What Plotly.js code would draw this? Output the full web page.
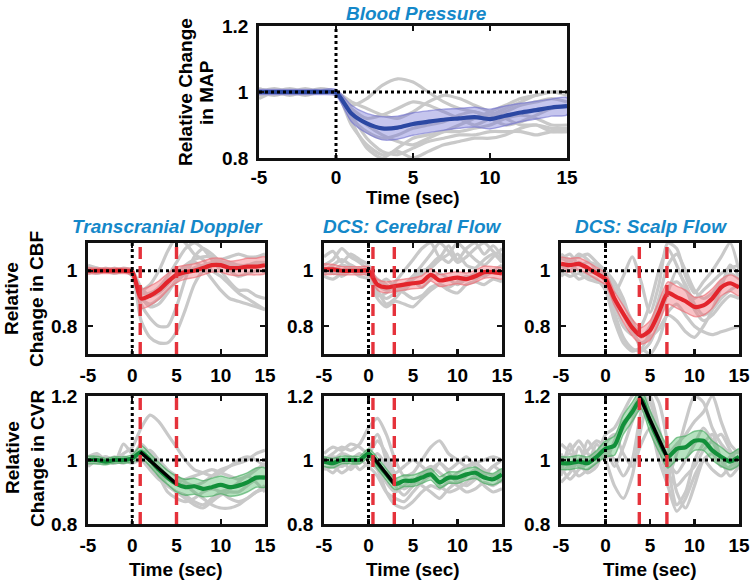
<!DOCTYPE html>
<html><head><meta charset="utf-8">
<script src="https://cdn.plot.ly/plotly-3.0.1.min.js"></script>
<style>html,body{margin:0;padding:0;background:#fff}#chart{width:752px;height:583px}</style>
</head><body><div id="chart"></div>
<script>
// ---------- data ----------
const time = [-5,-4,-3,-2,-1,0,1,2,3,4,5,6,7,8,9,10,11,12,13,14,15];
const xTickVals = [-5,0,5,10,15];
const xTickText = ['-5','0','5','10','15'];
const yTickValsWide = [0.8,1,1.2];
const yTickTextWide = ['0.8','1','1.2'];
const yTickValsFlow = [0.8,1];
const yTickTextFlow = ['0.8','1'];

// Blood pressure (MAP)
const bpMean = [1.0,1.0,1.0,1.0,1.0,0.998,0.935,0.905,0.89,0.892,0.903,0.91,0.916,0.92,0.924,0.918,0.928,0.938,0.945,0.953,0.957];
const bpSem  = [0.008,0.008,0.008,0.008,0.008,0.01,0.025,0.03,0.035,0.035,0.034,0.033,0.032,0.03,0.03,0.03,0.03,0.028,0.027,0.026,0.026];
const bpSubjects = [
 [1.01,1.0,1.0,1.01,1.0,1.0,0.93,0.86,0.82,0.81,0.83,0.85,0.86,0.87,0.87,0.88,0.88,0.88,0.87,0.88,0.88],
 [0.99,1.0,1.01,1.0,1.0,1.0,0.96,0.98,1.02,1.04,1.03,1.0,0.97,0.95,0.94,0.93,0.95,0.97,0.99,1.0,0.99],
 [1.0,1.0,1.0,1.0,1.0,1.0,0.9,0.84,0.81,0.82,0.8,0.82,0.84,0.85,0.86,0.86,0.87,0.89,0.9,0.89,0.89],
 [1.01,1.0,1.0,0.99,1.0,1.0,0.95,0.92,0.93,0.95,0.97,0.96,0.94,0.92,0.9,0.92,0.94,0.96,0.97,0.98,0.97],
 [1.0,0.99,1.0,1.0,1.01,1.0,0.92,0.88,0.86,0.87,0.89,0.9,0.91,0.93,0.94,0.92,0.9,0.91,0.93,0.95,0.96],
 [0.98,1.0,1.0,1.0,1.0,1.0,0.97,0.95,0.93,0.92,0.94,0.97,0.99,0.98,0.96,0.94,0.92,0.9,0.9,0.88,0.88],
 [1.0,1.01,1.0,1.0,1.0,1.0,0.94,0.9,0.87,0.85,0.84,0.86,0.88,0.9,0.92,0.94,0.96,0.98,0.99,1.0,1.0],
 [1.0,1.0,0.99,1.0,1.0,1.0,0.91,0.83,0.8,0.83,0.86,0.87,0.88,0.88,0.89,0.9,0.92,0.93,0.92,0.9,0.9]
];

// Transcranial Doppler CBF
const tcdMean = [1.0,1.0,1.0,1.0,1.0,0.995,0.9,0.91,0.93,0.96,0.985,0.995,1.0,1.01,1.02,1.02,1.01,1.01,1.015,1.015,1.02];
const tcdSem  = [0.012,0.01,0.01,0.01,0.01,0.012,0.035,0.035,0.033,0.03,0.028,0.025,0.025,0.025,0.025,0.025,0.025,0.028,0.03,0.03,0.03];
const tcdSubjects = [
 [1.01,1.0,1.0,1.0,1.0,0.98,0.82,0.76,0.74,0.74,0.78,0.86,0.95,1.0,1.02,1.03,1.03,1.02,1.02,1.03,1.03],
 [1.0,1.0,1.01,1.0,1.0,0.99,0.88,0.83,0.8,0.8,0.87,0.97,1.05,1.08,1.06,1.03,1.0,0.98,0.99,1.0,1.0],
 [1.0,1.01,1.0,0.99,1.0,1.0,0.93,0.95,1.0,1.07,1.12,1.1,1.06,1.04,1.0,0.98,0.95,0.92,0.9,0.88,0.86],
 [0.99,1.0,1.0,1.0,1.01,1.0,0.92,0.92,0.94,0.98,1.03,1.08,1.1,1.08,1.04,1.0,0.96,0.93,0.93,0.91,0.9],
 [1.02,1.01,1.0,1.0,1.0,1.0,0.9,0.88,0.9,0.93,0.96,0.99,1.01,1.02,1.03,1.04,1.05,1.06,1.05,1.05,1.06],
 [1.0,1.0,1.0,1.01,1.0,1.0,0.94,0.91,0.92,0.95,0.99,1.02,1.04,1.05,1.05,1.03,1.02,1.01,1.02,1.02,1.03],
 [1.0,0.99,1.0,1.0,1.0,1.0,0.91,0.87,0.88,0.92,0.97,1.01,1.03,1.01,0.97,0.93,0.9,0.89,0.88,0.87,0.86]
];

// DCS cerebral flow
const dcsCbfMean = [1.005,1.005,1.0,1.0,1.0,1.0,0.95,0.94,0.945,0.95,0.955,0.96,0.985,0.965,0.97,0.975,0.97,0.98,0.995,0.995,0.99];
const dcsCbfSem  = [0.02,0.018,0.015,0.015,0.015,0.015,0.02,0.02,0.02,0.02,0.02,0.022,0.022,0.022,0.022,0.022,0.022,0.022,0.022,0.02,0.02];
const dcsCbfSubjects = [
 [1.02,1.04,1.08,1.05,1.03,1.0,0.9,0.87,0.89,0.88,0.87,0.9,0.93,0.95,0.94,0.96,0.98,0.97,0.99,1.0,1.0],
 [1.05,1.07,1.03,1.06,1.04,1.02,0.95,0.93,0.96,1.0,1.04,1.08,1.1,1.05,1.09,1.04,1.08,1.1,1.06,1.09,1.05],
 [0.98,0.97,0.99,1.0,0.98,0.97,0.92,0.9,0.92,0.95,0.97,0.99,1.02,1.05,1.03,1.06,1.02,1.01,1.04,1.06,1.03],
 [1.0,1.01,0.98,1.0,1.01,0.99,0.95,0.97,0.94,0.92,0.9,0.91,0.94,0.95,0.93,0.92,0.95,0.96,0.95,0.97,0.96],
 [0.99,1.0,1.02,1.01,0.99,1.0,0.97,0.95,0.93,0.95,0.98,1.02,1.06,1.1,1.07,1.03,1.05,1.08,1.1,1.07,1.04],
 [1.01,0.99,1.0,1.02,1.0,0.98,0.91,0.92,0.95,0.93,0.96,0.94,0.97,0.99,0.97,0.95,0.97,0.99,0.98,1.0,1.02],
 [1.0,1.02,1.04,1.02,1.0,0.99,0.93,0.88,0.9,0.94,0.98,1.0,1.01,1.04,1.06,1.1,1.07,1.04,1.02,1.05,1.08]
];

// DCS scalp flow
const scalpMean = [1.025,1.02,1.025,1.01,0.99,0.97,0.9,0.845,0.795,0.765,0.785,0.85,0.92,0.905,0.89,0.87,0.875,0.9,0.94,0.955,0.94];
const scalpSem  = [0.025,0.025,0.022,0.022,0.022,0.022,0.025,0.03,0.03,0.03,0.035,0.04,0.04,0.04,0.04,0.035,0.035,0.035,0.03,0.03,0.03];
const scalpSubjects = [
 [1.05,1.03,1.06,1.04,1.0,0.96,0.85,0.76,0.72,0.71,0.74,0.82,0.92,1.0,0.95,0.88,0.84,0.86,0.9,0.93,0.95],
 [1.0,0.98,0.99,0.97,0.96,0.95,0.92,0.98,1.05,0.96,0.85,0.95,1.1,1.08,0.98,0.92,0.96,1.0,1.05,1.1,1.0],
 [0.98,1.0,0.97,0.98,0.97,0.93,0.82,0.74,0.71,0.72,0.7,0.75,0.85,0.88,0.84,0.8,0.78,0.77,0.78,0.79,0.8],
 [1.04,1.06,1.02,1.03,1.02,0.99,0.94,0.88,0.82,0.76,0.8,0.9,1.02,1.06,1.0,0.93,0.9,0.92,0.96,0.99,0.97],
 [1.02,1.0,1.03,1.01,0.99,0.97,0.9,0.84,0.78,0.74,0.76,0.79,0.84,0.82,0.78,0.76,0.8,0.86,0.94,1.02,0.98],
 [1.06,1.04,1.05,1.06,1.03,1.0,0.96,0.9,0.8,0.72,0.78,0.86,0.94,0.96,0.93,0.9,0.93,0.96,0.99,1.01,1.02],
 [0.99,1.02,1.0,0.99,1.0,0.98,0.88,0.8,0.77,0.8,0.88,1.0,1.08,1.02,0.94,0.86,0.82,0.84,0.88,0.91,0.9]
];

// CVR – Transcranial Doppler
const tcdCvrMean = [1.0,1.0,0.995,1.0,1.0,1.005,1.025,1.0,0.97,0.945,0.925,0.915,0.918,0.91,0.915,0.922,0.915,0.92,0.93,0.945,0.945];
const tcdCvrSem  = [0.012,0.012,0.01,0.01,0.01,0.012,0.02,0.02,0.022,0.022,0.025,0.025,0.025,0.025,0.028,0.028,0.028,0.03,0.03,0.03,0.03];
const tcdCvrSubjects = [
 [1.0,1.0,1.01,1.0,1.02,1.04,1.1,1.14,1.12,1.08,1.04,1.0,0.97,0.96,0.95,0.96,0.98,0.99,1.0,1.02,1.03],
 [0.99,1.0,1.0,0.99,1.05,1.02,1.02,1.0,0.96,0.92,0.9,0.88,0.86,0.85,0.87,0.89,0.9,0.9,0.92,0.94,0.95],
 [1.01,1.02,1.0,1.01,1.0,1.0,1.03,1.0,0.95,0.9,0.88,0.87,0.88,0.9,0.91,0.9,0.88,0.87,0.88,0.9,0.92],
 [1.0,0.99,1.0,1.0,0.99,1.01,1.05,1.02,0.98,0.95,0.93,0.92,0.9,0.88,0.86,0.85,0.85,0.86,0.88,0.9,0.91],
 [0.98,1.0,1.01,1.0,1.0,0.99,1.0,0.98,0.96,0.94,0.93,0.94,0.95,0.96,0.97,0.96,0.95,0.94,0.95,0.97,0.99],
 [1.0,1.0,0.99,1.0,1.01,1.0,1.02,1.03,1.0,0.97,0.95,0.93,0.92,0.93,0.95,0.97,0.98,1.0,1.01,1.0,0.98],
 [1.0,1.01,1.0,0.99,1.0,1.0,1.0,0.97,0.94,0.92,0.9,0.89,0.87,0.86,0.88,0.9,0.91,0.93,0.95,0.93,0.9]
];
const tcdEvents = [0.9, 5.0];
const tcdSlopeX = [0.9, 5.0];
const tcdSlopeY = [1.025, 0.925];

// CVR – DCS cerebral
const dcsCvrMean = [0.995,0.99,1.0,1.0,1.0,1.02,0.99,0.955,0.925,0.935,0.935,0.945,0.955,0.93,0.945,0.945,0.955,0.96,0.945,0.94,0.955];
const dcsCvrSem  = [0.015,0.015,0.012,0.012,0.012,0.015,0.018,0.018,0.018,0.018,0.018,0.018,0.018,0.018,0.018,0.018,0.018,0.018,0.018,0.018,0.018];
const dcsCvrSubjects = [
 [1.0,1.02,1.04,1.03,1.05,1.1,1.13,1.08,1.0,0.95,0.96,1.0,1.04,1.06,1.02,1.0,0.98,0.99,1.0,1.01,1.0],
 [0.98,0.96,0.99,1.0,0.97,0.99,0.97,0.9,0.86,0.85,0.87,0.9,0.92,0.91,0.93,0.92,0.9,0.91,0.93,0.92,0.94],
 [1.02,1.04,1.03,1.05,1.04,1.02,1.06,1.02,0.96,0.98,1.0,0.98,0.96,0.99,0.97,0.99,1.01,0.98,0.96,0.98,1.0],
 [0.97,0.98,0.96,0.98,1.0,0.98,0.95,0.9,0.88,0.87,0.9,0.93,0.95,0.92,0.9,0.91,0.93,0.95,0.92,0.9,0.91],
 [1.0,1.0,1.02,1.01,0.99,1.03,1.08,1.0,0.94,0.91,0.93,0.96,0.98,0.96,0.94,0.96,0.98,0.99,0.97,0.95,0.97],
 [0.99,1.01,1.0,0.97,1.0,1.01,0.98,0.93,0.9,0.92,0.94,0.92,0.9,0.88,0.91,0.93,0.92,0.94,0.96,0.95,0.93],
 [1.01,0.99,0.98,1.0,1.02,1.0,1.02,0.98,0.92,0.89,0.92,0.95,0.97,0.99,0.96,0.93,0.95,0.97,0.95,0.98,0.96]
];
const dcsEvents = [0.5, 2.9];
const dcsSlopeX = [0.5, 2.9];
const dcsSlopeY = [1.01, 0.925];

// CVR – DCS scalp
const scalpCvrMean = [0.99,0.99,0.995,0.99,1.01,1.035,1.045,1.11,1.15,1.19,1.12,1.06,1.01,1.035,1.04,1.06,1.06,1.03,1.01,0.995,1.01];
const scalpCvrSem  = [0.02,0.02,0.02,0.02,0.02,0.025,0.03,0.03,0.03,0.03,0.035,0.035,0.035,0.035,0.035,0.03,0.03,0.03,0.03,0.025,0.025];
const scalpCvrSubjects = [
 [0.95,1.05,0.98,1.06,1.02,1.08,1.1,1.15,1.2,1.22,1.15,1.05,0.95,1.02,1.12,1.2,1.18,1.1,1.05,1.02,1.0],
 [1.02,0.97,1.04,0.99,1.05,1.0,0.92,0.88,0.95,1.1,1.2,1.1,0.98,0.86,0.9,1.0,1.05,1.08,1.0,0.95,0.98],
 [0.96,0.98,0.95,0.97,0.99,1.02,1.05,1.1,1.16,1.2,1.18,1.08,1.0,0.96,1.0,1.05,1.1,1.06,1.0,0.97,0.99],
 [1.05,1.03,1.06,1.02,1.0,1.03,1.0,0.95,1.0,1.15,1.22,1.18,1.05,0.9,0.85,0.92,1.0,1.02,0.98,1.01,1.03],
 [0.98,0.94,0.97,0.99,1.02,1.0,1.06,1.12,1.14,1.16,1.12,1.06,1.02,1.05,1.08,1.12,1.15,1.2,1.12,1.05,1.02],
 [1.0,1.02,0.99,0.96,0.98,1.05,1.08,1.02,0.98,1.05,1.1,1.0,0.92,0.84,0.88,0.95,1.0,0.97,0.95,0.98,1.0],
 [0.93,0.96,1.0,1.03,1.06,1.04,0.98,1.04,1.12,1.18,1.14,1.04,0.96,0.92,0.95,0.98,1.03,1.06,1.08,1.03,0.98]
];
const scalpEvents = [3.8, 6.9];
const scalpSlopeX = [3.8, 6.9];
const scalpSlopeY = [1.2, 1.01];

// ---------- styling / layout ----------
const W = 752, H = 583;
const FONT = 'Liberation Sans, Arial, Helvetica, sans-serif';
const BLUE = {line:'#2c48a3', band:'rgba(120,120,215,0.42)', edge:'rgba(110,110,205,0.6)'};
const RED  = {line:'#e3252c', band:'rgba(242,120,128,0.45)', edge:'rgba(236,110,118,0.65)'};
const GREEN= {line:'#12903a', band:'rgba(80,185,105,0.42)', edge:'rgba(70,170,95,0.65)'};

function px(x0,x1){return [x0/W, x1/W];}
function py(top,bot){return [1-bot/H, 1-top/H];}

const panels = [
 {mean:bpMean, sem:bpSem, subj:bpSubjects, col:BLUE, yr:[0.8,1.2], yt:[yTickValsWide,yTickTextWide], dx:px(259,567), dy:py(26,158), ev:[], sx:null, sy:null, xs:0},
 {mean:tcdMean, sem:tcdSem, subj:tcdSubjects, col:RED, yr:[0.7,1.1], yt:[yTickValsFlow,yTickTextFlow], dx:px(88,265), dy:py(243,354), ev:tcdEvents, sx:null, sy:null, xs:2},
 {mean:dcsCbfMean, sem:dcsCbfSem, subj:dcsCbfSubjects, col:RED, yr:[0.7,1.1], yt:[yTickValsFlow,yTickTextFlow], dx:px(324,502), dy:py(243,354), ev:dcsEvents, sx:null, sy:null, xs:2},
 {mean:scalpMean, sem:scalpSem, subj:scalpSubjects, col:RED, yr:[0.7,1.1], yt:[yTickValsFlow,yTickTextFlow], dx:px(561,739), dy:py(243,354), ev:scalpEvents, sx:null, sy:null, xs:2},
 {mean:tcdCvrMean, sem:tcdCvrSem, subj:tcdCvrSubjects, col:GREEN, yr:[0.8,1.2], yt:[yTickValsWide,yTickTextWide], dx:px(88,265), dy:py(396,524), ev:tcdEvents, sx:tcdSlopeX, sy:tcdSlopeY, xs:2},
 {mean:dcsCvrMean, sem:dcsCvrSem, subj:dcsCvrSubjects, col:GREEN, yr:[0.8,1.2], yt:[yTickValsWide,yTickTextWide], dx:px(324,502), dy:py(396,524), ev:dcsEvents, sx:dcsSlopeX, sy:dcsSlopeY, xs:2},
 {mean:scalpCvrMean, sem:scalpCvrSem, subj:scalpCvrSubjects, col:GREEN, yr:[0.8,1.2], yt:[yTickValsWide,yTickTextWide], dx:px(561,739), dy:py(396,524), ev:scalpEvents, sx:scalpSlopeX, sy:scalpSlopeY, xs:2}
];

const traces = [];
const shapes = [];
const layout = {
  width:W, height:H, margin:{l:0,r:0,t:0,b:0},
  paper_bgcolor:'#fff', plot_bgcolor:'#fff', showlegend:false,
  font:{family:FONT, color:'#000'}
};

panels.forEach((p,i)=>{
  const k = i===0 ? '' : String(i+1);
  const xa = 'x'+k, ya = 'y'+k;
  const axCommon = {showgrid:false, zeroline:false, showline:true, linecolor:'#111', linewidth:2.8,
    mirror:'ticks', ticks:'inside', ticklen:5, tickwidth:2.4, tickcolor:'#111',
    tickfont:{family:FONT, size:19, color:'#000', weight:'bold'}, fixedrange:true};
  layout['xaxis'+k] = Object.assign({}, axCommon, {domain:p.dx, anchor:ya, range:[-5,15],
    tickmode:'array', tickvals:xTickVals, ticktext:xTickText, ticklabelstandoff:p.xs});
  layout['yaxis'+k] = Object.assign({}, axCommon, {domain:p.dy, anchor:xa, range:p.yr,
    tickmode:'array', tickvals:p.yt[0], ticktext:p.yt[1], ticklabelstandoff:4});

  const lineShape = {shape:'spline', smoothing:0.7};
  p.subj.forEach(s=>{
    traces.push({x:time, y:s, xaxis:xa, yaxis:ya, mode:'lines', hoverinfo:'skip',
      line:Object.assign({color:'#c9c9c9', width:3.2}, lineShape)});
  });
  const upper = p.mean.map((m,j)=>m+p.sem[j]);
  const lower = p.mean.map((m,j)=>m-p.sem[j]);
  traces.push({x:time.concat(time.slice().reverse()), y:upper.concat(lower.slice().reverse()),
    xaxis:xa, yaxis:ya, mode:'lines', fill:'toself', fillcolor:p.col.band,
    line:{color:p.col.edge, width:1.4, shape:'spline', smoothing:0.7}, hoverinfo:'skip'});
  traces.push({x:time, y:p.mean, xaxis:xa, yaxis:ya, mode:'lines', hoverinfo:'skip',
    line:{color:p.col.line, width:4.2, shape:'spline', smoothing:0.7}});

  shapes.push({type:'line', xref:xa, yref:ya+' domain', x0:0, x1:0, y0:0, y1:1, layer:'above',
    line:{color:'#000', width:3, dash:'dot'}});
  shapes.push({type:'line', xref:xa+' domain', yref:ya, x0:0, x1:1, y0:1, y1:1, layer:'above',
    line:{color:'#000', width:3, dash:'dot'}});
  p.ev.forEach(e=>{
    shapes.push({type:'line', xref:xa, yref:ya+' domain', x0:e, x1:e, y0:0, y1:1, layer:'above',
      line:{color:'#e5323b', width:3.4, dash:'12px,7px'}});
  });
  if(p.sx){
    traces.push({x:p.sx, y:p.sy, xaxis:xa, yaxis:ya, mode:'lines', hoverinfo:'skip',
      line:{color:'#000', width:3.4}});
  }
});

function ann(text, xPx, yPx, opts){
  return Object.assign({text:text, xref:'paper', yref:'paper', x:xPx/W, y:1-yPx/H,
    xanchor:'center', yanchor:'middle', showarrow:false,
    font:{family:FONT, size:19, color:'#000', weight:'bold'}}, opts||{});
}
const titleFont = {family:FONT, size:19, color:'#1488c9', weight:'bold', style:'italic'};
const annotations = [
  ann('Blood Pressure', 416, 13, {font:titleFont}),
  ann('Transcranial Doppler', 167, 226, {font:titleFont}),
  ann('DCS: Cerebral Flow', 412, 226, {font:titleFont}),
  ann('DCS: Scalp Flow', 651, 226, {font:titleFont}),
  ann('Relative Change', 186, 92, {textangle:-90}),
  ann('in MAP', 207, 92, {textangle:-90}),
  ann('Relative', 12, 299, {textangle:-90}),
  ann('Change in CBF', 37, 299, {textangle:-90}),
  ann('Relative', 12, 458, {textangle:-90}),
  ann('Change in CVR', 37, 458, {textangle:-90}),
  ann('Time (sec)', 413, 198),
  ann('Time (sec)', 176, 569),
  ann('Time (sec)', 413, 569),
  ann('Time (sec)', 650, 569)
];
layout.shapes = shapes;
layout.annotations = annotations;

Plotly.newPlot('chart', traces, layout, {staticPlot:true, displayModeBar:false});
</script>
</body></html>
